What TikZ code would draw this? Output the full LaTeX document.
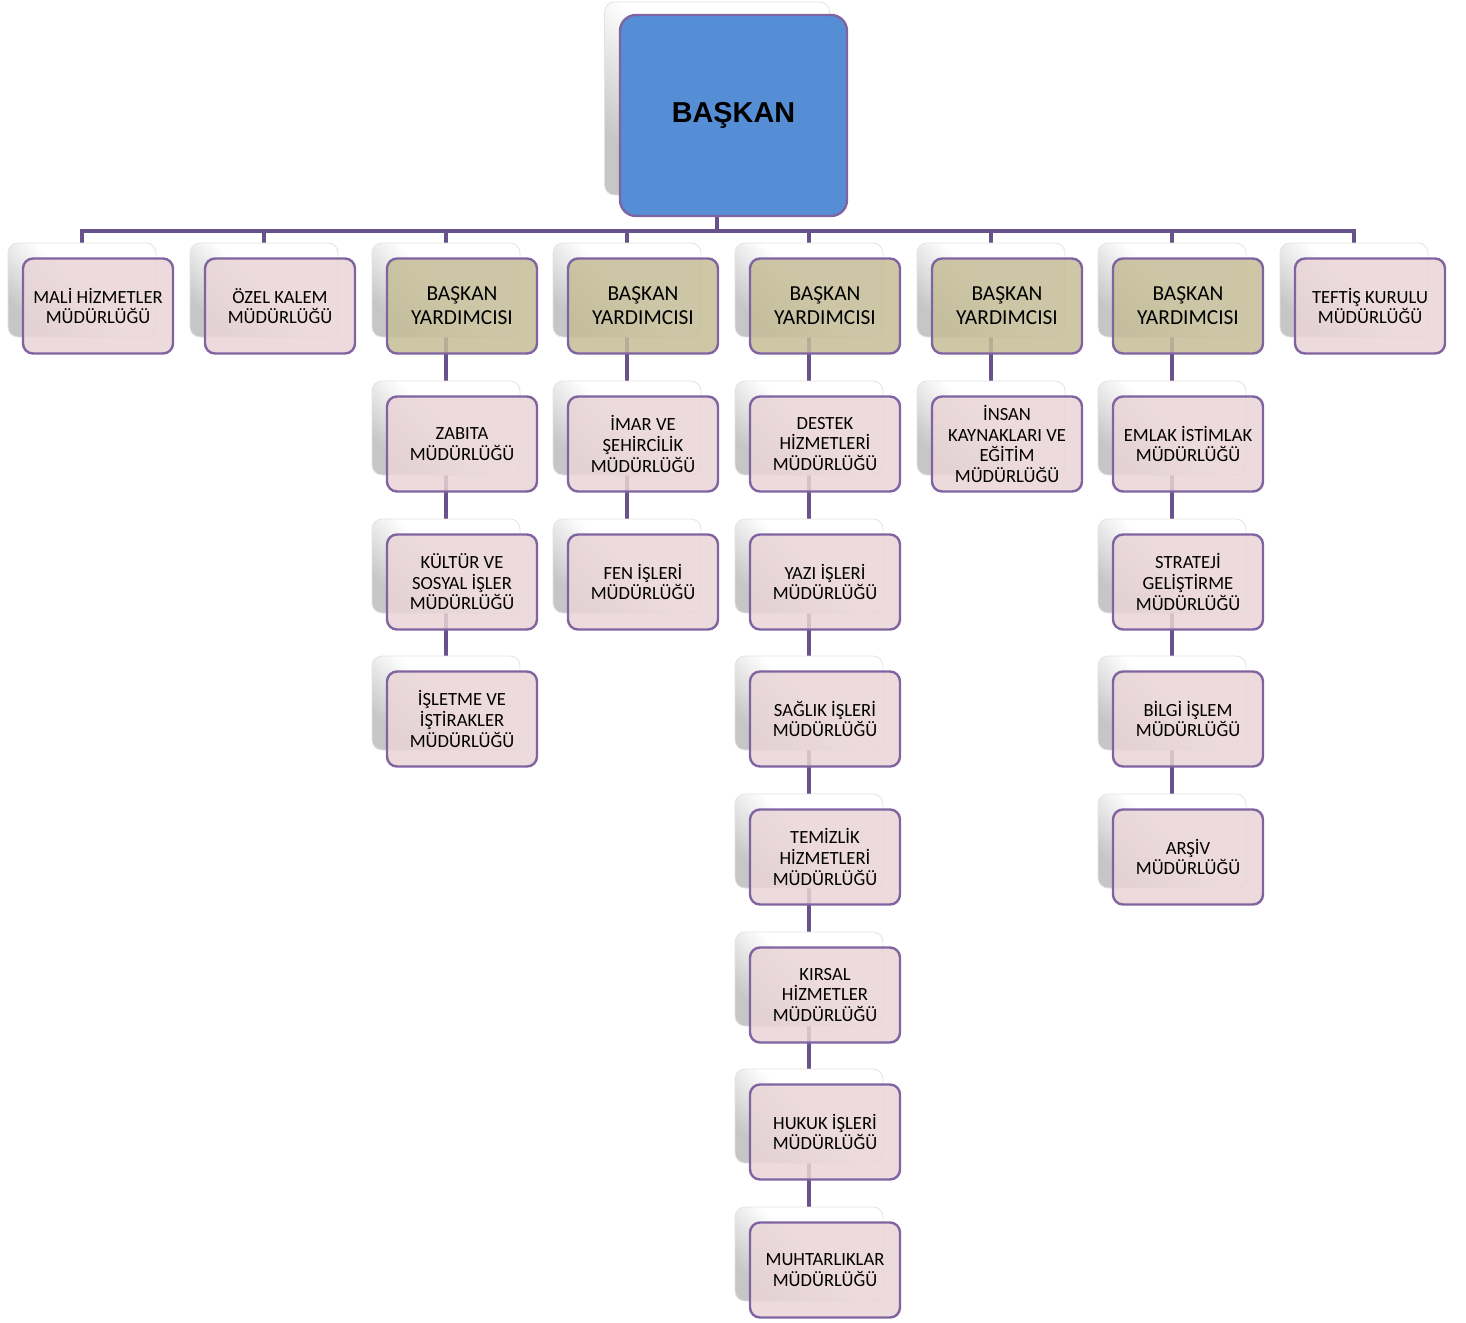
\documentclass[tikz,border=0pt]{standalone}
\usepackage{fontspec}
\setmainfont{Carlito}
\newfontfamily\arialfont{Liberation Sans}
\usepackage{xcolor}
\usepackage{tikz}
\definecolor{linecol}{HTML}{67528C}
\definecolor{frame}{HTML}{8064A2}
\definecolor{chief}{HTML}{558ED5}
\definecolor{deputy}{HTML}{C4BD97}
\definecolor{office}{HTML}{E9D4D6}
\pgfdeclarelayer{back}
\pgfsetlayers{back,main}
\tikzset{
  hat/.style={draw=linecol, line width=2.4pt},
  arka/.style={rounded corners=5pt, draw=gray!22, shading=axis, top color=white, bottom color=gray!45, middle color=white, shading angle=-45, minimum width=74pt, minimum height=47pt, inner sep=0pt},
  mud/.style={rounded corners=5pt, draw=frame, line width=1.2pt, fill=office, fill opacity=0.85, text opacity=1, minimum width=75pt, minimum height=47.5pt, align=center, inner sep=1pt, text=black, font=\fontsize{9.3}{10.3}\selectfont},
  yrd/.style={mud, fill=deputy, font=\fontsize{10.7}{12}\selectfont},
  bas/.style={rounded corners=8pt, draw=frame, line width=1.2pt, fill=chief, minimum width=113.5pt, minimum height=100.5pt, text=black, font=\arialfont\bfseries\fontsize{14.4}{16}\selectfont},
}
% back card + front card
\newcommand{\birim}[5]{%
  \node[arka] (#1-b) at ({#2-16},{#3-16}) {};
  \node[#4] (#1) at (#2,#3) {#5};}

\begin{document}
\begin{tikzpicture}[x=0.5pt, y=-0.5pt]
  \useasboundingbox (0,0) rectangle (1466,1322);
  % top
  \node[arka, minimum width=112.5pt, minimum height=96.5pt] (baskan-b) at (717,98.5) {};
  \node[bas] (baskan) at (733.5,115.5) {BAŞKAN};
  \coordinate (bus) at (717,231);
  % first row
  \birim{mali}{98}{306}{mud}{MALİ HİZMETLER\\MÜDÜRLÜĞÜ}
  \birim{ozel}{280}{306}{mud}{ÖZEL KALEM\\MÜDÜRLÜĞÜ}
  \birim{yrd1}{462}{306}{yrd}{BAŞKAN\\YARDIMCISI}
  \birim{yrd2}{643}{306}{yrd}{BAŞKAN\\YARDIMCISI}
  \birim{yrd3}{825}{306}{yrd}{BAŞKAN\\YARDIMCISI}
  \birim{yrd4}{1007}{306}{yrd}{BAŞKAN\\YARDIMCISI}
  \birim{yrd5}{1188}{306}{yrd}{BAŞKAN\\YARDIMCISI}
  \birim{teftis}{1370}{306}{mud}{TEFTİŞ KURULU\\MÜDÜRLÜĞÜ}
  % column 3
  \birim{zabita}{462}{444}{mud}{ZABITA\\MÜDÜRLÜĞÜ}
  \birim{kultur}{462}{582}{mud}{KÜLTÜR VE\\SOSYAL İŞLER\\MÜDÜRLÜĞÜ}
  \birim{isletme}{462}{719}{mud}{İŞLETME VE\\İŞTİRAKLER\\MÜDÜRLÜĞÜ}
  % column 4
  \birim{imar}{643}{444}{mud}{İMAR VE\\ŞEHİRCİLİK\\MÜDÜRLÜĞÜ}
  \birim{fen}{643}{582}{mud}{FEN İŞLERİ\\MÜDÜRLÜĞÜ}
  % column 5
  \birim{destek}{825}{444}{mud}{DESTEK\\HİZMETLERİ\\MÜDÜRLÜĞÜ}
  \birim{yazi}{825}{582}{mud}{YAZI İŞLERİ\\MÜDÜRLÜĞÜ}
  \birim{saglik}{825}{719}{mud}{SAĞLIK İŞLERİ\\MÜDÜRLÜĞÜ}
  \birim{temizlik}{825}{857}{mud}{TEMİZLİK\\HİZMETLERİ\\MÜDÜRLÜĞÜ}
  \birim{kirsal}{825}{995}{mud}{KIRSAL\\HİZMETLER\\MÜDÜRLÜĞÜ}
  \birim{hukuk}{825}{1132}{mud}{HUKUK İŞLERİ\\MÜDÜRLÜĞÜ}
  \birim{muhtar}{825}{1270}{mud}{MUHTARLIKLAR\\MÜDÜRLÜĞÜ}
  % column 6
  \birim{insan}{1007}{444}{mud}{İNSAN\\KAYNAKLARI VE\\EĞİTİM\\MÜDÜRLÜĞÜ}
  % column 7
  \birim{emlak}{1188}{444}{mud}{EMLAK İSTİMLAK\\MÜDÜRLÜĞÜ}
  \birim{strateji}{1188}{582}{mud}{STRATEJİ\\GELİŞTİRME\\MÜDÜRLÜĞÜ}
  \birim{bilgi}{1188}{719}{mud}{BİLGİ İŞLEM\\MÜDÜRLÜĞÜ}
  \birim{arsiv}{1188}{857}{mud}{ARŞİV\\MÜDÜRLÜĞÜ}
  % connectors behind the cards
  \begin{pgfonlayer}{back}
    \draw[hat] (baskan-b) -- (bus);
    \draw[hat] (bus) -| (mali-b);
    \draw[hat] (bus) -| (ozel-b);
    \draw[hat] (bus) -| (yrd1-b);
    \draw[hat] (bus) -| (yrd2-b);
    \draw[hat] (bus) -| (yrd3-b);
    \draw[hat] (bus) -| (yrd4-b);
    \draw[hat] (bus) -| (yrd5-b);
    \draw[hat] (bus) -| (teftis-b);
    \draw[hat] (yrd1-b) -- (zabita-b);
    \draw[hat] (zabita-b) -- (kultur-b);
    \draw[hat] (kultur-b) -- (isletme-b);
    \draw[hat] (yrd2-b) -- (imar-b);
    \draw[hat] (imar-b) -- (fen-b);
    \draw[hat] (yrd3-b) -- (destek-b);
    \draw[hat] (destek-b) -- (yazi-b);
    \draw[hat] (yazi-b) -- (saglik-b);
    \draw[hat] (saglik-b) -- (temizlik-b);
    \draw[hat] (temizlik-b) -- (kirsal-b);
    \draw[hat] (kirsal-b) -- (hukuk-b);
    \draw[hat] (hukuk-b) -- (muhtar-b);
    \draw[hat] (yrd4-b) -- (insan-b);
    \draw[hat] (yrd5-b) -- (emlak-b);
    \draw[hat] (emlak-b) -- (strateji-b);
    \draw[hat] (strateji-b) -- (bilgi-b);
    \draw[hat] (bilgi-b) -- (arsiv-b);
  \end{pgfonlayer}
\end{tikzpicture}
\end{document}
